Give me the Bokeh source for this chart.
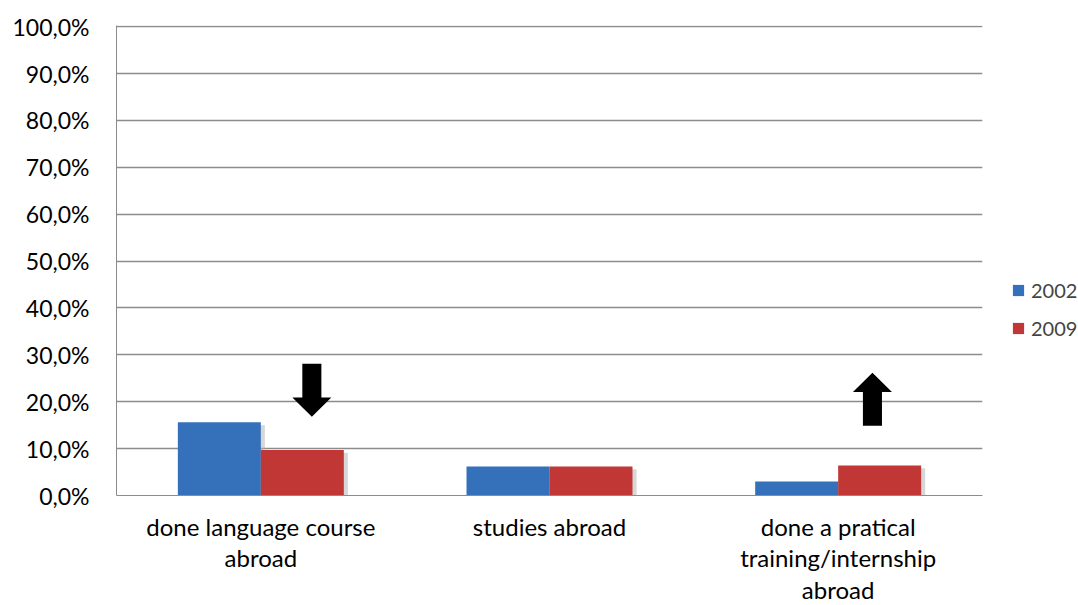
from bokeh.plotting import figure
from bokeh.models import Range1d, FixedTicker, Legend, LegendItem
from bokeh.embed import file_html
from bokeh.resources import INLINE

# ---- data ----
categories = ["done language course\nabroad", "studies abroad",
              "done a pratical\ntraining/internship\nabroad"]
series_names = ["2002", "2009"]
values_2002 = [15.6, 6.2, 3.0]
values_2009 = [9.7, 6.2, 6.4]
y_ticks = [0, 10, 20, 30, 40, 50, 60, 70, 80, 90, 100]
y_tick_labels = ["0,0%", "10,0%", "20,0%", "30,0%", "40,0%", "50,0%",
                 "60,0%", "70,0%", "80,0%", "90,0%", "100,0%"]
# annotation arrows: category index, start value, tip value
arrow_cat = [0, 2]
arrow_start = [28.1, 14.9]
arrow_tip = [16.8, 26.2]

FONT = "Lato"
BLUE = "#3571bb"
RED = "#c03735"
GRID = "#8c8c8c"

n = len(categories)
centers = [i + 0.5 for i in range(n)]
bw = 0.2875

p = figure(frame_width=866, frame_height=470,
           x_range=Range1d(0, n), y_range=Range1d(0, 100.25),
           output_backend="svg", toolbar_location=None,
           min_border_left=116, min_border_top=25, min_border_bottom=110,
           min_border_right=96)
p.outline_line_color = None
p.background_fill_color = "white"
p.border_fill_color = "white"

# shadows
sh_dx = 0.014
p.vbar(x=[c - bw / 2 + sh_dx for c in centers], top=[v - 0.6 for v in values_2002],
       width=bw, fill_color="#b0b0b0", fill_alpha=0.5, line_color=None)
p.vbar(x=[c + bw / 2 + sh_dx for c in centers], top=[v - 0.6 for v in values_2009],
       width=bw, fill_color="#b0b0b0", fill_alpha=0.5, line_color=None)

r1 = p.vbar(x=[c - bw / 2 for c in centers], top=values_2002, width=bw,
            fill_color=BLUE, line_color=None)
r2 = p.vbar(x=[c + bw / 2 for c in centers], top=values_2009, width=bw,
            fill_color=RED, line_color=None)

# arrows built from the annotation arrays
shaft_hw = 0.033
head_hw = 0.0675
head_len = 4.1
xs, ys = [], []
for ci, s, t in zip(arrow_cat, arrow_start, arrow_tip):
    cx = centers[ci] + bw / 2 + (0.033 if ci == 0 else -0.025)
    d = 1 if t > s else -1
    base = t - d * head_len
    xs.append([cx - shaft_hw, cx + shaft_hw, cx + shaft_hw, cx + head_hw, cx,
               cx - head_hw, cx - shaft_hw])
    ys.append([s, s, base, base, t, base, base])
p.patches(xs, ys, fill_color="black", line_color=None)

# axes
p.xaxis.ticker = FixedTicker(ticks=centers)
p.xaxis.major_label_overrides = {c: lab for c, lab in zip(centers, categories)}
p.xaxis.major_tick_line_color = None
p.xaxis.minor_tick_line_color = None
p.xaxis.axis_line_color = GRID
p.xaxis.major_label_text_font = FONT
p.xaxis.major_label_text_font_size = "24px"
p.xaxis.major_label_text_color = "black"
p.xaxis.major_label_text_line_height = 1.1
p.xaxis.major_label_standoff = 10

p.yaxis.ticker = FixedTicker(ticks=y_ticks)
p.yaxis.major_label_overrides = {t: lab for t, lab in zip(y_ticks, y_tick_labels)}
p.yaxis.major_tick_line_color = None
p.yaxis.minor_tick_line_color = None
p.yaxis.axis_line_color = GRID
p.yaxis.major_label_text_font = FONT
p.yaxis.major_label_text_font_size = "23px"
p.yaxis.major_label_text_color = "black"
p.yaxis.major_label_standoff = 21

p.xgrid.grid_line_color = None
p.ygrid.grid_line_color = GRID
p.ygrid.grid_line_width = 1.3

legend = Legend(items=[LegendItem(label=series_names[0], renderers=[r1]),
                       LegendItem(label=series_names[1], renderers=[r2])],
                location=(29, 155), margin=0, padding=0, spacing=14,
                glyph_width=14, glyph_height=14, label_standoff=6,
                label_text_font=FONT, label_text_font_size="20px",
                border_line_color=None, background_fill_alpha=0)
p.add_layout(legend, "right")

open("out.html", "w").write(file_html(p, INLINE))
